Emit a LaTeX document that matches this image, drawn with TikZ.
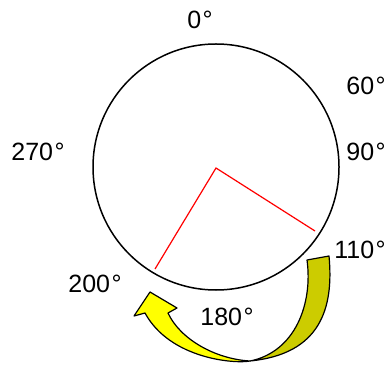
\documentclass[tikz,border=0pt]{standalone}
\usepackage{fontspec}
\setmainfont{Liberation Sans}
\usetikzlibrary{calc}
\definecolor{ArrowYellow}{RGB}{255,255,0}
\definecolor{ArrowOlive}{RGB}{204,204,0}
\newcommand{\dg}{\kern1.5pt°}

\begin{document}
\begin{tikzpicture}[x=1pt, y=1pt,
  lbl/.style={anchor=base, font=\fontsize{25}{30}\selectfont},
  band/.style={draw=black, line width=1.2pt, line join=round}]
\useasboundingbox (0,0) rectangle (387,364);
% dial and the two red hands
\node[circle, draw, line width=1.5pt, minimum size=246pt, inner sep=0pt] (dial) at (216,197) {};
\coordinate (hub) at (216,196);
\coordinate (hand110) at (315,133);
\coordinate (hand200) at (155,95);
\draw[red, line width=1.2pt] (hand110) -- (hub) -- (hand200);
% angle labels
\node[lbl] (deg0) at (200,335) {0\dg};
\node[lbl] (deg60) at (366,269) {60\dg};
\node[lbl] (deg90) at (366,203) {90\dg};
\node[lbl] (deg270) at (38,203) {270\dg};
\node[lbl] (deg110) at (360,106) {110\dg};
\node[lbl] (deg200) at (95,72) {200\dg};
\node[lbl] (deg180) at (227,39) {180\dg};
% curved arrow, back side first
\draw[band, fill=ArrowOlive] (307,104) -- (329,108) .. controls (334,55) and (320,10) .. (250,3)
  .. controls (295,12) and (313,60) .. cycle;
\draw[band, fill=ArrowYellow] (250,3) .. controls (215,5) and (180,25) .. (168,51) -- (177,56)
  -- (150,72) -- (134,48) -- (145,51) .. controls (170,5) and (235,0) .. cycle;
\end{tikzpicture}
\end{document}
